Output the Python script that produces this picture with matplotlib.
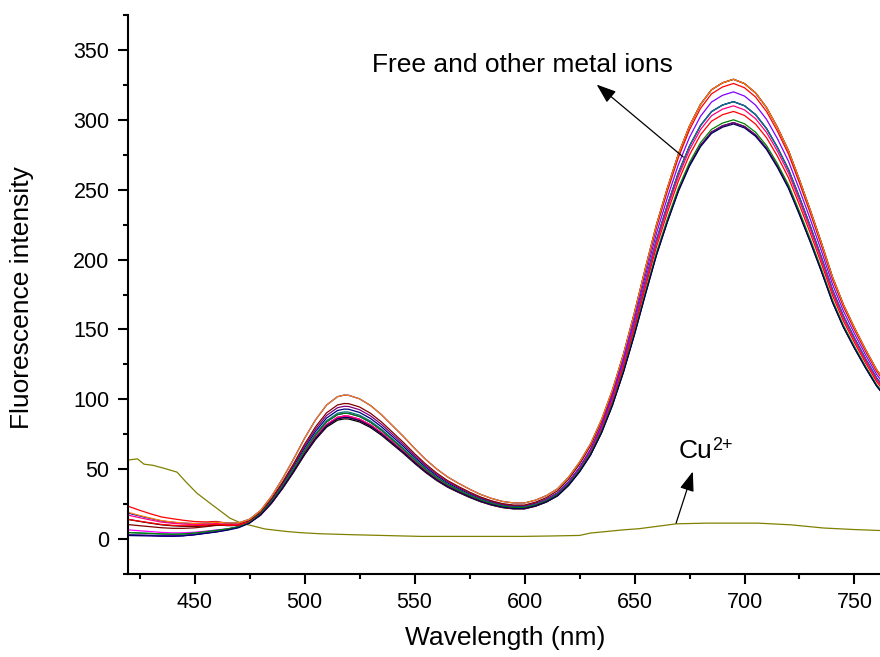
import numpy as np
import matplotlib.pyplot as plt
from matplotlib.ticker import MultipleLocator

plt.rcParams['font.family'] = ['Liberation Sans', 'DejaVu Sans']

# lowest "free / other ions" spectrum
wavelength = [420, 425, 430, 435, 440, 445, 450, 455, 460, 465, 470, 475, 480, 485, 490,
              495, 500, 505, 510, 515, 518, 520, 525, 530, 535, 540, 545, 550, 555, 560,
              565, 570, 575, 580, 585, 590, 595, 600, 605, 610, 615, 620, 625, 630, 635,
              640, 645, 650, 655, 660, 665, 670, 675, 680, 685, 690, 695, 700, 705, 710,
              715, 720, 725, 730, 735, 740, 745, 750, 755, 760, 762]
base_curve = [2.5, 2.4, 2.3, 2.1, 2.0, 2.3, 3.0, 4.0, 5.0, 6.3, 8.0, 11.2, 17.0, 25.5, 36.0,
              47.6, 60.0, 71.0, 79.8, 84.8, 85.7, 85.6, 83.5, 79.5, 74.0, 67.5, 61.0, 54.0, 47.5, 41.8,
              37.0, 33.2, 29.7, 26.6, 24.2, 22.4, 21.5, 21.5, 23.4, 26.4, 30.8, 38.2, 48.0, 60.0, 76.0,
              96.0, 120.0, 147.0, 176.0, 204.0, 228.0, 250.0, 268.0, 282.0, 291.5, 296.0, 298.3, 295.5, 289.5, 280.0,
              267.0, 252.0, 233.0, 213.0, 192.0, 170.0, 152.0, 137.0, 123.0, 110.0, 106.0]
base_peak1 = 85.7
base_peak2 = 298.3

# left-side tail shape (excess at 420 nm fades out) and plateau shape
decay_wl = [420, 427, 434, 442, 450, 457, 465]
decay_w = [1.0, 0.72, 0.48, 0.35, 0.16, 0.03, 0.0]
plateau_wl = [420, 460, 470, 478]
plateau_w = [1.0, 0.9, 0.3, 0.0]

# each ion: colour, value at 420 nm, level around 450-465 nm, peak ~516 nm, peak ~695 nm
ion_colors = ['#000000', '#FF0000', '#0000FF', '#FF00FF', '#000080', '#800080', '#800000',
              '#008080', '#FF8000', '#8000FF', '#FF0080', '#FF0000', '#008000', '#000060']
tail_start = [14, 23.3, 18, 6.5, 2.8, 2.5, 10, 4.5, 18.5, 2.5, 17, 14, 4.5, 2.5]
tail_level = [8, 10.5, 9, 4, 2.5, 2.5, 7, 3.5, 9, 2.5, 9, 8.5, 3.5, 2.5]
peak1 = [86, 88, 103, 88, 93, 95, 97, 91, 103, 90, 88, 87, 90, 87]
peak2 = [298, 326, 329, 313, 313, 298, 329, 313, 329, 320, 310, 306, 300, 297]

# Cu2+ spectrum
cu_wl = [420, 424, 427, 431, 436, 442, 446, 451, 457, 463, 466, 471, 475, 482, 492, 498,
         507, 522, 540, 553, 570, 584, 599, 612, 625, 630, 645, 652, 669, 683, 706, 721,
         736, 750, 762]
cu_val = [56.6, 57.4, 53.6, 52.8, 50.7, 47.9, 41.0, 32.9, 25.7, 18.6, 15.0, 11.5, 10.0, 7.2,
          5.4, 4.6, 3.8, 3.1, 2.4, 1.9, 1.9, 1.9, 1.9, 2.2, 2.6, 4.3, 6.6, 7.4, 10.9, 11.4,
          11.4, 10.2, 7.9, 6.8, 6.1]

fig = plt.figure(figsize=(8.8, 6.57), dpi=100)
ax = fig.add_axes([127.5 / 880, 1 - 574 / 657, (880 - 127.5) / 880, (574 - 15) / 657])

wl = np.array(wavelength, dtype=float)
base = np.array(base_curve)
for i, col in enumerate(ion_colors):
    if i == 4:
        ax.plot(cu_wl, cu_val, color='#808000', lw=0.9)
    r = np.interp(wl, [600, 645], [peak1[i] / base_peak1, peak2[i] / base_peak2])
    y = (base * r
         + (tail_level[i] - 2.5) * np.interp(wl, plateau_wl, plateau_w)
         + (tail_start[i] - tail_level[i]) * np.interp(wl, decay_wl, decay_w))
    ax.plot(wl, y, color=col, lw=0.9)

ax.set_xlim(419.5, 761.6)
ax.set_ylim(-25, 375)
ax.xaxis.set_major_locator(MultipleLocator(50))
ax.xaxis.set_minor_locator(MultipleLocator(25))
ax.yaxis.set_major_locator(MultipleLocator(50))
ax.yaxis.set_minor_locator(MultipleLocator(25))
ax.spines['top'].set_visible(False)
ax.spines['right'].set_visible(False)
for s in ['left', 'bottom']:
    ax.spines[s].set_linewidth(1.5)
ax.tick_params(which='major', direction='out', length=7, width=1.5, labelsize=15.5, pad=6)
ax.tick_params(which='minor', direction='out', length=3.5, width=1.5)

ax.set_xlabel('Wavelength (nm)', fontsize=19)
ax.set_ylabel('Fluorescence intensity', fontsize=19)
ax.xaxis.set_label_coords((505 - 127.5) / 752.5, -0.093)
ax.yaxis.set_label_coords(-0.124, (574 - 298) / 559)

arrow = dict(arrowstyle='-|>,head_length=0.6,head_width=0.22', color='k', lw=0.9,
             shrinkA=0, shrinkB=0, mutation_scale=20)
ax.annotate('', xy=(632.8, 325.2), xytext=(672.2, 273.3), arrowprops=arrow)
ax.annotate('', xy=(676.5, 48.3), xytext=(668.9, 11.4), arrowprops=arrow)
ax.text(598.9, 334.5, 'Free and other metal ions', fontsize=19, ha='center', va='baseline')
ax.text(670.2, 58, 'Cu', fontsize=19, ha='left', va='baseline')
ax.text(685.5, 63.8, '2+', fontsize=13, ha='left', va='baseline')

fig.savefig('out.png', dpi=100)
